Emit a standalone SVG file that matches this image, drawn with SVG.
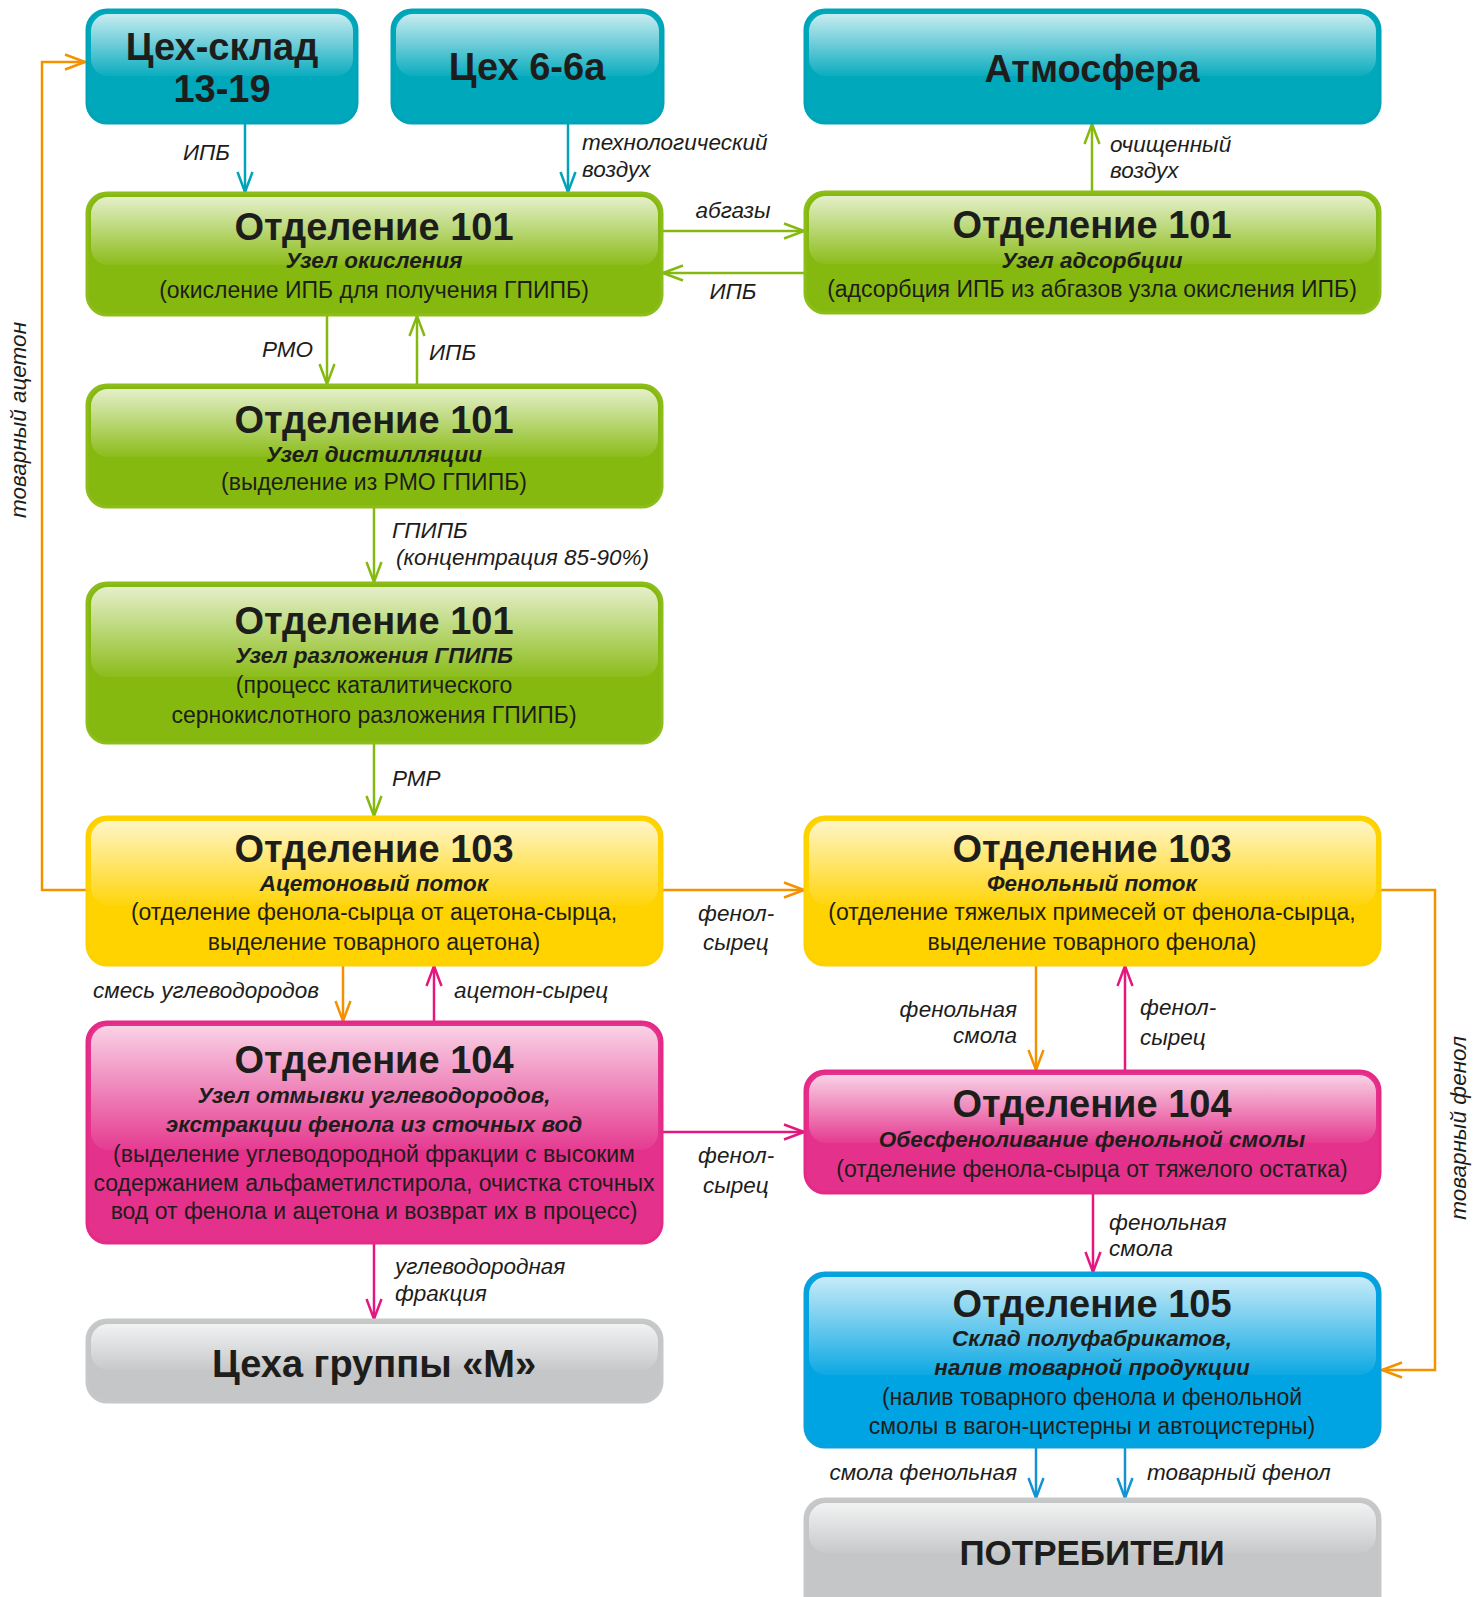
<svg xmlns="http://www.w3.org/2000/svg" width="1478" height="1597" viewBox="0 0 1478 1597">
<style>
text{font-family:"Liberation Sans",Arial,sans-serif;fill:#1d1d1b}
.c{text-anchor:middle}
.h{font-weight:bold;font-size:38px}
.s{font-weight:bold;font-style:italic;font-size:22.5px}
.p{font-size:23px}
.l{font-style:italic;font-size:22.5px}
.e{text-anchor:end}
.box{stroke-width:3}
.hl{fill:url(#hl)}
.teal{fill:#00a8bc;stroke:#00a3b7}
.green{fill:#86b90f;stroke:#8cbd1a}
.yellow{fill:#ffd300;stroke:#fdd000}
.pink{fill:#e4318b;stroke:#e42a86}
.blue{fill:#00a4e2;stroke:#0aa0dc}
.gray{fill:#c4c6c8;stroke:#c6c8ca}
.cn{fill:none;stroke-width:2.5}
.ct{stroke:#00a3b7}
.cg{stroke:#86b90f}
.co{stroke:#f39200}
.cp{stroke:#e5177e}
.cb{stroke:#1493d2}
</style>
<defs>
<linearGradient id="hl" x1="0" y1="0" x2="0" y2="1">
<stop offset="0" stop-color="#fff" stop-opacity="0.78"/>
<stop offset="1" stop-color="#fff" stop-opacity="0.05"/>
</linearGradient>
<marker id="at" viewBox="0 0 22 18" refX="21" refY="9" markerWidth="22" markerHeight="18" markerUnits="userSpaceOnUse" orient="auto"><path d="M1,1.5 L21,9 L1,16.5" fill="none" stroke="#00a3b7" stroke-width="2.5"/></marker>
<marker id="ag" viewBox="0 0 22 18" refX="21" refY="9" markerWidth="22" markerHeight="18" markerUnits="userSpaceOnUse" orient="auto"><path d="M1,1.5 L21,9 L1,16.5" fill="none" stroke="#86b90f" stroke-width="2.5"/></marker>
<marker id="ao" viewBox="0 0 22 18" refX="21" refY="9" markerWidth="22" markerHeight="18" markerUnits="userSpaceOnUse" orient="auto"><path d="M1,1.5 L21,9 L1,16.5" fill="none" stroke="#f39200" stroke-width="2.5"/></marker>
<marker id="ap" viewBox="0 0 22 18" refX="21" refY="9" markerWidth="22" markerHeight="18" markerUnits="userSpaceOnUse" orient="auto"><path d="M1,1.5 L21,9 L1,16.5" fill="none" stroke="#e5177e" stroke-width="2.5"/></marker>
<marker id="ab" viewBox="0 0 22 18" refX="21" refY="9" markerWidth="22" markerHeight="18" markerUnits="userSpaceOnUse" orient="auto"><path d="M1,1.5 L21,9 L1,16.5" fill="none" stroke="#1493d2" stroke-width="2.5"/></marker>
</defs>
<rect width="1478" height="1597" fill="#fff"/>

<g id="connectors">
<path class="cn ct" d="M245,123 V192" marker-end="url(#at)"/>
<path class="cn ct" d="M568,123 V192" marker-end="url(#at)"/>
<path class="cn cg" d="M662,231 H804" marker-end="url(#ag)"/>
<path class="cn cg" d="M805,273 H663" marker-end="url(#ag)"/>
<path class="cn cg" d="M1092,192 V124" marker-end="url(#ag)"/>
<path class="cn cg" d="M327,315 V384" marker-end="url(#ag)"/>
<path class="cn cg" d="M417,385 V316" marker-end="url(#ag)"/>
<path class="cn cg" d="M374,507 V582" marker-end="url(#ag)"/>
<path class="cn cg" d="M374,743 V816" marker-end="url(#ag)"/>
<path class="cn co" d="M87,890 H42 V62 H85" marker-end="url(#ao)"/>
<path class="cn co" d="M662,890 H804" marker-end="url(#ao)"/>
<path class="cn co" d="M1380,890 H1435 V1370 H1382" marker-end="url(#ao)"/>
<path class="cn co" d="M343,966 V1021" marker-end="url(#ao)"/>
<path class="cn cp" d="M434,1021 V966" marker-end="url(#ap)"/>
<path class="cn cp" d="M662,1132 H804" marker-end="url(#ap)"/>
<path class="cn cp" d="M374,1243 V1319" marker-end="url(#ap)"/>
<path class="cn co" d="M1036,966 V1070" marker-end="url(#ao)"/>
<path class="cn cp" d="M1125,1071 V966" marker-end="url(#ap)"/>
<path class="cn cp" d="M1093,1193 V1272" marker-end="url(#ap)"/>
<path class="cn cb" d="M1036,1447 V1498" marker-end="url(#ab)"/>
<path class="cn cb" d="M1125,1447 V1498" marker-end="url(#ab)"/>

<text class="l e" x="230" y="160">ИПБ</text>
<text class="l" x="582" y="150">технологический</text>
<text class="l" x="582" y="177">воздух</text>
<text class="l c" x="733" y="218">абгазы</text>
<text class="l c" x="733" y="299">ИПБ</text>
<text class="l" x="1110" y="152">очищенный</text>
<text class="l" x="1110" y="178">воздух</text>
<text class="l e" x="313" y="357">РМО</text>
<text class="l" x="429" y="360">ИПБ</text>
<text class="l" x="392" y="538">ГПИПБ</text>
<text class="l" x="396" y="565">(концентрация 85-90%)</text>
<text class="l" x="392" y="786">РМР</text>
<text class="l c" transform="translate(26,420) rotate(-90)">товарный ацетон</text>
<text class="l" x="698" y="921">фенол-</text>
<text class="l" x="703" y="950">сырец</text>
<text class="l c" transform="translate(1466,1128) rotate(-90)">товарный фенол</text>
<text class="l e" x="319" y="998">смесь углеводородов</text>
<text class="l" x="454" y="998">ацетон-сырец</text>
<text class="l" x="698" y="1163">фенол-</text>
<text class="l" x="703" y="1193">сырец</text>
<text class="l" x="395" y="1274">углеводородная</text>
<text class="l" x="395" y="1301">фракция</text>
<text class="l e" x="1017" y="1017">фенольная</text>
<text class="l e" x="1017" y="1043">смола</text>
<text class="l" x="1140" y="1015">фенол-</text>
<text class="l" x="1140" y="1045">сырец</text>
<text class="l" x="1109" y="1230">фенольная</text>
<text class="l" x="1109" y="1256">смола</text>
<text class="l e" x="1017" y="1480">смола фенольная</text>
<text class="l" x="1147" y="1480">товарный фенол</text>
</g>

<g id="ceh-sklad">
<rect class="box teal" x="87" y="10" width="270" height="113" rx="20"/>
<rect class="hl" x="91" y="14" width="262" height="62" rx="17"/>
<text class="h c" x="222" y="60">Цех-склад</text>
<text class="h c" x="222" y="102">13-19</text>
</g>

<g id="ceh-66a">
<rect class="box teal" x="392" y="10" width="271" height="113" rx="20"/>
<rect class="hl" x="396" y="14" width="263" height="62" rx="17"/>
<text class="h c" x="527" y="80">Цех 6-6а</text>
</g>

<g id="atmosfera">
<rect class="box teal" x="805" y="10" width="575" height="113" rx="20"/>
<rect class="hl" x="809" y="14" width="567" height="62" rx="17"/>
<text class="h c" x="1092" y="82">Атмосфера</text>
</g>

<g id="otd101-okisl">
<rect class="box green" x="87" y="193" width="575" height="122" rx="20"/>
<rect class="hl" x="91" y="197" width="567" height="68" rx="17"/>
<text class="h c" x="374" y="240">Отделение 101</text>
<text class="s c" x="374" y="268">Узел окисления</text>
<text class="p c" x="374" y="298">(окисление ИПБ для получения ГПИПБ)</text>
</g>

<g id="otd101-adsorb">
<rect class="box green" x="805" y="192" width="575" height="121" rx="20"/>
<rect class="hl" x="809" y="196" width="567" height="68" rx="17"/>
<text class="h c" x="1092" y="238">Отделение 101</text>
<text class="s c" x="1092" y="268">Узел адсорбции</text>
<text class="p c" x="1092" y="297">(адсорбция ИПБ из абгазов узла окисления ИПБ)</text>
</g>

<g id="otd101-distil">
<rect class="box green" x="87" y="385" width="575" height="122" rx="20"/>
<rect class="hl" x="91" y="389" width="567" height="68" rx="17"/>
<text class="h c" x="374" y="433">Отделение 101</text>
<text class="s c" x="374" y="462">Узел дистилляции</text>
<text class="p c" x="374" y="490">(выделение из РМО ГПИПБ)</text>
</g>

<g id="otd101-razl">
<rect class="box green" x="87" y="583" width="575" height="160" rx="20"/>
<rect class="hl" x="91" y="587" width="567" height="90" rx="17"/>
<text class="h c" x="374" y="634">Отделение 101</text>
<text class="s c" x="374" y="663">Узел разложения ГПИПБ</text>
<text class="p c" x="374" y="693">(процесс каталитического</text>
<text class="p c" x="374" y="723">сернокислотного разложения ГПИПБ)</text>
</g>

<g id="otd103-aceton">
<rect class="box yellow" x="87" y="817" width="575" height="148" rx="20"/>
<rect class="hl" x="91" y="821" width="567" height="84" rx="17"/>
<text class="h c" x="374" y="862">Отделение 103</text>
<text class="s c" x="374" y="891">Ацетоновый поток</text>
<text class="p c" x="374" y="920">(отделение фенола-сырца от ацетона-сырца,</text>
<text class="p c" x="374" y="950">выделение товарного ацетона)</text>
</g>

<g id="otd103-fenol">
<rect class="box yellow" x="805" y="817" width="575" height="148" rx="20"/>
<rect class="hl" x="809" y="821" width="567" height="84" rx="17"/>
<text class="h c" x="1092" y="862">Отделение 103</text>
<text class="s c" x="1092" y="891">Фенольный поток</text>
<text class="p c" x="1092" y="920">(отделение тяжелых примесей от фенола-сырца,</text>
<text class="p c" x="1092" y="950">выделение товарного фенола)</text>
</g>

<g id="otd104-left">
<rect class="box pink" x="87" y="1022" width="575" height="221" rx="20"/>
<rect class="hl" x="91" y="1026" width="567" height="124" rx="17"/>
<text class="h c" x="374" y="1073">Отделение 104</text>
<text class="s c" x="374" y="1103">Узел отмывки углеводородов,</text>
<text class="s c" x="374" y="1132">экстракции фенола из сточных вод</text>
<text class="p c" x="374" y="1162">(выделение углеводородной фракции с высоким</text>
<text class="p c" x="374" y="1191">содержанием альфаметилстирола, очистка сточных</text>
<text class="p c" x="374" y="1219">вод от фенола и ацетона и возврат их в процесс)</text>
</g>

<g id="otd104-right">
<rect class="box pink" x="805" y="1071" width="575" height="122" rx="20"/>
<rect class="hl" x="809" y="1075" width="567" height="68" rx="17"/>
<text class="h c" x="1092" y="1117">Отделение 104</text>
<text class="s c" x="1092" y="1147">Обесфеноливание фенольной смолы</text>
<text class="p c" x="1092" y="1177">(отделение фенола-сырца от тяжелого остатка)</text>
</g>

<g id="ceha-m">
<rect class="box gray" x="87" y="1320" width="575" height="82" rx="20"/>
<rect class="hl" x="91" y="1324" width="567" height="46" rx="17"/>
<text class="h c" x="374" y="1377">Цеха группы «М»</text>
</g>

<g id="otd105">
<rect class="box blue" x="805" y="1273" width="575" height="174" rx="20"/>
<rect class="hl" x="809" y="1277" width="567" height="98" rx="17"/>
<text class="h c" x="1092" y="1317">Отделение 105</text>
<text class="s c" x="1092" y="1346">Склад полуфабрикатов,</text>
<text class="s c" x="1092" y="1375">налив товарной продукции</text>
<text class="p c" x="1092" y="1405">(налив товарного фенола и фенольной</text>
<text class="p c" x="1092" y="1434">смолы в вагон-цистерны и автоцистерны)</text>
</g>

<g id="potrebiteli">
<rect class="box gray" x="805" y="1499" width="575" height="120" rx="20"/>
<rect class="hl" x="809" y="1503" width="567" height="50" rx="17"/>
<text class="h c" x="1092" y="1565" style="font-size:35px">ПОТРЕБИТЕЛИ</text>
</g>
</svg>
